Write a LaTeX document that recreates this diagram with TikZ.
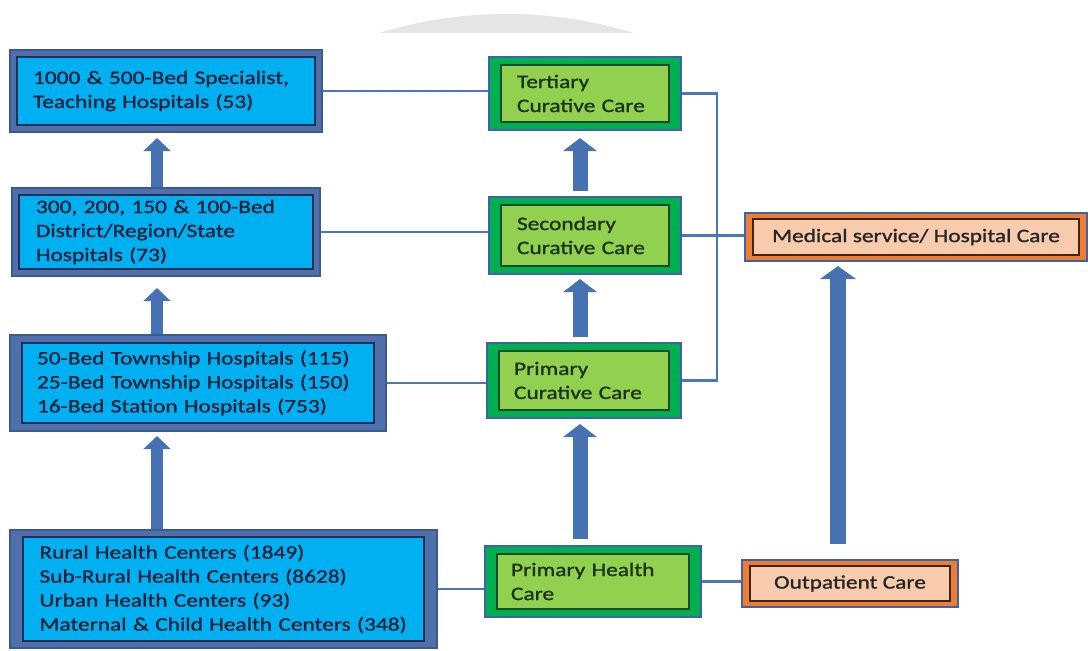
\documentclass[tikz,border=0pt]{standalone}
\usepackage{fontspec}
\setmainfont{Carlito}[FakeStretch=1.23, FakeBold=1.3]
\usepackage{tikz}
\usetikzlibrary{arrows.meta,calc,positioning}

\definecolor{cyanfill}{HTML}{00B0F0}
\definecolor{steelband}{HTML}{4F70AB}
\definecolor{steelline}{HTML}{3B5A92}
\definecolor{navyline}{HTML}{1F2F55}
\definecolor{navytext}{HTML}{14223C}
\definecolor{greenband}{HTML}{00B050}
\definecolor{greenfill}{HTML}{92D050}
\definecolor{greenline}{HTML}{1D4A2A}
\definecolor{greentext}{HTML}{1B3418}
\definecolor{orangeband}{HTML}{ED7D31}
\definecolor{orangefill}{HTML}{F8CBAD}
\definecolor{orangeline}{HTML}{3E2414}
\definecolor{outline}{HTML}{3D64A8}
\definecolor{linkblue}{HTML}{4A76C0}
\definecolor{arrowblue}{HTML}{4672B4}

\newcommand{\boxfont}{\fontsize{19}{24}\selectfont}

\tikzset{
  box inset x/.initial=7,
  box inset y/.initial=7,
  framed/.style n args={3}{fill=#1,
    path picture={\draw[line width=1.6pt, draw=#2, fill=#3]
      ([shift={(\pgfkeysvalueof{/tikz/box inset x}pt,-\pgfkeysvalueof{/tikz/box inset y}pt)}]path picture bounding box.north west)
      rectangle
      ([shift={(-\pgfkeysvalueof{/tikz/box inset x}pt,\pgfkeysvalueof{/tikz/box inset y}pt)}]path picture bounding box.south east);}},
  box/.style={draw, line width=2pt, inner sep=0pt, font=\boxfont},
  hospital/.style={box, draw=steelline, framed={steelband}{navyline}{cyanfill}, text=navytext, align=left},
  care/.style={box, draw=outline, framed={greenband}{greenline}{greenfill}, text=greentext, align=left,
    box inset x=12, box inset y=8},
  service/.style={box, draw=outline, framed={orangeband}{orangeline}{orangefill}, text=black!85, align=center,
    box inset x=8, box inset y=6},
  link/.style={draw=linkblue, line width=2.2pt},
  bigarrow/.style={draw=arrowblue, line width=#1pt, -{Triangle[width=0pt 2.2, length=13pt]}},
}

\begin{document}
\begin{tikzpicture}[x=1pt, y=-1pt]
\useasboundingbox (0,0) rectangle (1088,651);

% faint arc at the top
\begin{scope}
  \clip (370,0) rectangle (650,32);
  \fill[black!10] (506.5,446.7) circle (432.7pt);
\end{scope}

% facilities
\node[hospital, minimum width=312pt, minimum height=82pt, text width=266pt] (b1) at (166,91)
  {1000 \& 500-Bed Specialist,\\Teaching Hospitals (53)};
\node[hospital, minimum width=308pt, minimum height=88pt, text width=260pt] (b2) at (166,232)
  {300, 200, 150 \& 100-Bed\\District/Region/State\\Hospitals (73)};
\node[hospital, minimum width=376pt, minimum height=96pt, text width=322pt,
      box inset x=12, box inset y=8] (b3) at (198,383)
  {50-Bed Township Hospitals (115)\\25-Bed Township Hospitals (150)\\16-Bed Station Hospitals (753)};
\node[hospital, minimum width=427pt, minimum height=118pt, text width=368pt,
      box inset x=13, box inset y=7] (b4) at (223.5,589)
  {Rural Health Centers (1849)\\Sub-Rural Health Centers (8628)\\Urban Health Centers (93)\\Maternal \& Child Health Centers (348)};

% levels of care
\node[care, minimum width=192pt, minimum height=73pt, text width=136pt] (g1) at (585,93.5)
  {Tertiary\\Curative Care};
\node[care, minimum width=192pt, minimum height=77pt, text width=136pt] (g2) at (585,235.5)
  {Secondary\\Curative Care};
\node[care, minimum width=194pt, minimum height=75pt, text width=140pt] (g3) at (584,380.5)
  {Primary\\Curative Care};
\node[care, minimum width=216pt, minimum height=71pt, text width=164pt] (g4) at (593,581.5)
  {Primary Health\\Care};

% services
\node[service, minimum width=342pt, minimum height=48pt] (o1) at (916,237) {Medical service/ Hospital Care};
\node[service, minimum width=216pt, minimum height=47pt] (o2) at (850,583.5) {Outpatient Care};

% links
\draw[link] (b1.east) -- (b1.east -| g1.west);
\draw[link] (b2.east) -- (b2.east -| g2.west);
\draw[link] (b3.east) -- (b3.east -| g3.west);
\draw[link] (b4.east) -- (b4.east -| g4.west);
\draw[link] (g4.east) -- (g4.east -| o2.west);
\draw[link] (g2.east) -- (g2.east -| o1.west);
\draw[link] (g1.east) -- ++(35,0) |- (g3.east);

% upward arrows
\coordinate (colL) at (157,0);
\coordinate (colM) at (580,0);
\coordinate (colR) at (838,0);
\foreach \src/\dst/\col/\w/\gs/\ge in {b2/b1/colL/12/0/5, b3/b2/colL/12/0/11, b4/b3/colL/12/0/4,
    g2/g1/colM/15/5/7, g3/g2/colM/15/5/4, g4/g3/colM/15/6/5, o2/o1/colR/16/15/4}
  \draw[bigarrow=\w, shorten <=\gs pt, shorten >=\ge pt] (\col |- \src.north) -- (\col |- \dst.south);
\end{tikzpicture}
\end{document}
